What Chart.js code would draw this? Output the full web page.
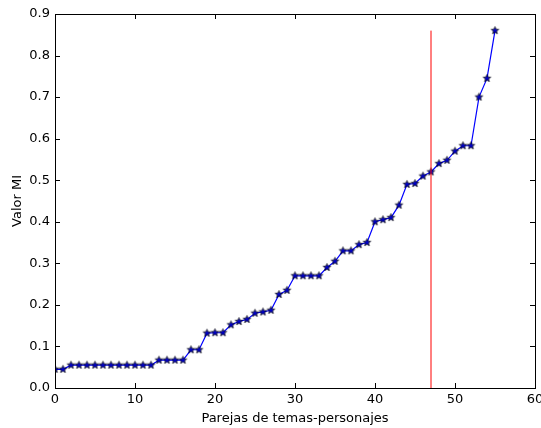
<!DOCTYPE html>
<html>
<head>
<meta charset="utf-8">
<script src="https://cdn.jsdelivr.net/npm/chart.js@4"></script>
<style>
  html, body { margin: 0; padding: 0; background: #fff; }
  #wrap { width: 541px; height: 428px; }
</style>
</head>
<body>
<div id="wrap"><canvas id="c" width="541" height="428"></canvas></div>
<script>
// MI value for each topic-character pair, sorted
var pairIdx = [];
for (var i = 0; i <= 55; i++) pairIdx.push(i);
var miValues = [
  0.045, 0.045, 0.055, 0.055, 0.055, 0.055, 0.055, 0.055, 0.055, 0.055,
  0.055, 0.055, 0.055, 0.067, 0.067, 0.067, 0.067, 0.092, 0.092, 0.132,
  0.133, 0.133, 0.152, 0.160, 0.165, 0.180, 0.183, 0.187, 0.225, 0.235,
  0.270, 0.270, 0.270, 0.270, 0.290, 0.305, 0.330, 0.330, 0.345, 0.350,
  0.400, 0.405, 0.410, 0.440, 0.490, 0.492, 0.510, 0.520, 0.540, 0.548,
  0.570, 0.583, 0.583, 0.700, 0.745, 0.860
];
var cutX = [47, 47];
var cutY = [0, 0.86];

var xTicks = [0, 10, 20, 30, 40, 50, 60];
var yTicks = [0, 0.1, 0.2, 0.3, 0.4, 0.5, 0.6, 0.7, 0.8, 0.9];

var FONT = 'DejaVu Sans';

// filled 5 point star like matplotlib '*'
function makeStar(r) {
  var s = Math.ceil(r * 2 + 3);
  var cv = document.createElement('canvas');
  cv.width = s; cv.height = s;
  var g = cv.getContext('2d');
  var cx = s / 2, cy = s / 2;
  g.beginPath();
  for (var k = 0; k < 10; k++) {
    var rad = (k % 2 === 0) ? r : r * 0.42;
    var a = -Math.PI / 2 + k * Math.PI / 5;
    var px = cx + rad * Math.cos(a), py = cy + rad * Math.sin(a);
    if (k === 0) g.moveTo(px, py); else g.lineTo(px, py);
  }
  g.closePath();
  g.fillStyle = '#0000cc';
  g.fill();
  g.lineWidth = 0.7;
  g.strokeStyle = '#000000';
  g.stroke();
  return cv;
}
var star = makeStar(4);

var mplFrame = {
  id: 'mplFrame',
  afterDraw: function(chart) {
    var ctx = chart.ctx, a = chart.chartArea;
    var xs = chart.scales.x, ys = chart.scales.y;
    ctx.save();
    ctx.strokeStyle = '#000';
    ctx.lineWidth = 1;
    ctx.beginPath();
    xTicks.forEach(function(v) {
      var px = Math.round(xs.getPixelForValue(v)) + 0.5;
      ctx.moveTo(px, a.bottom); ctx.lineTo(px, a.bottom - 5);
      ctx.moveTo(px, a.top); ctx.lineTo(px, a.top + 5);
    });
    yTicks.forEach(function(v) {
      var py = Math.round(ys.getPixelForValue(v)) + 0.5;
      ctx.moveTo(a.left, py); ctx.lineTo(a.left + 5, py);
      ctx.moveTo(a.right, py); ctx.lineTo(a.right - 5, py);
    });
    ctx.stroke();
    ctx.strokeRect(Math.round(a.left) + 0.5, Math.round(a.top) + 0.5,
                   Math.round(a.right - a.left), Math.round(a.bottom - a.top));
    ctx.restore();
  }
};

new Chart(document.getElementById('c'), {
  type: 'scatter',
  data: {
    datasets: [{
      label: 'corte',
      data: cutX.map(function(x, i) { return { x: x, y: cutY[i] }; }),
      showLine: true,
      borderColor: '#ff0000',
      borderWidth: 1,
      pointRadius: 0,
      pointHoverRadius: 0
    }, {
      label: 'MI',
      data: pairIdx.map(function(x, i) { return { x: x, y: miValues[i] }; }),
      showLine: true,
      borderColor: '#0000ff',
      borderWidth: 1.2,
      pointStyle: star,
      pointRadius: 4
    }]
  },
  options: {
    responsive: false,
    animation: false,
    layout: { padding: { top: 14, right: 6, left: 0, bottom: 0 } },
    plugins: { legend: { display: false }, tooltip: { enabled: false } },
    scales: {
      x: {
        type: 'linear', min: 0, max: 60,
        afterBuildTicks: function(s) { s.ticks = xTicks.map(function(v) { return { value: v }; }); },
        afterFit: function(s) { s.height = 40; s.paddingLeft = 0; s.paddingRight = 0; },
        grid: { display: false, drawTicks: false },
        border: { display: true, color: '#000' },
        ticks: { color: '#000', padding: 4, maxRotation: 0, font: { family: FONT, size: 13 },
                 callback: function(v) { return String(v); } },
        title: { display: true, text: 'Parejas de temas-personajes', color: '#000',
                 font: { family: FONT, size: 13 }, padding: { top: 2, bottom: 2 } }
      },
      y: {
        type: 'linear', min: 0, max: 0.9,
        afterBuildTicks: function(s) { s.ticks = yTicks.map(function(v) { return { value: v }; }); },
        afterFit: function(s) { s.width = 55; s.paddingTop = 0; s.paddingBottom = 0; },
        grid: { display: false, drawTicks: false },
        border: { display: true, color: '#000' },
        ticks: { color: '#000', padding: 5, font: { family: FONT, size: 13 },
                 callback: function(v) { return v.toFixed(1); } },
        title: { display: true, text: 'Valor MI', color: '#000',
                 font: { family: FONT, size: 13 }, padding: { top: 10, bottom: 4 } }
      }
    }
  },
  plugins: [mplFrame]
});
</script>
</body>
</html>
